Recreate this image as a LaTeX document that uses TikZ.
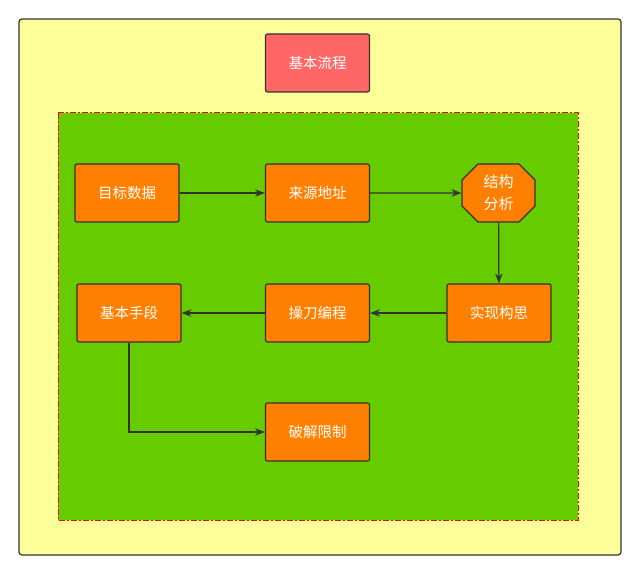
\documentclass[tikz,border=0pt]{standalone}
\usepackage{fontspec}
\setmainfont{Noto Sans CJK SC}
\usepackage{tikz}
\usetikzlibrary{positioning,arrows.meta,shapes.misc}
\definecolor{paleyellow}{HTML}{FFFF99}
\definecolor{leafgreen}{HTML}{66CC00}
\definecolor{boxorange}{HTML}{FF8000}
\definecolor{titlered}{HTML}{FF6666}
\definecolor{edgegray}{HTML}{333333}

\tikzset{
  stagebox/.style={draw=edgegray,line width=1.2pt,fill=boxorange,rounded corners=2pt,
    minimum width=104pt,minimum height=58pt,text=white,inner sep=0pt,
    font=\fontsize{14.5pt}{18pt}\selectfont},
  titlebox/.style={stagebox,fill=titlered},
  checkbox/.style={stagebox,chamfered rectangle,rounded corners=0pt,
    minimum width=73pt,minimum height=58pt,chamfered rectangle xsep=8pt,
    chamfered rectangle ysep=8pt,align=center,
    font=\fontsize{15pt}{22pt}\selectfont},
  flow/.style={->,line width=1.2pt,draw=edgegray}
}

\begin{document}
\begin{tikzpicture}[x=1pt,y=-1pt,>={Stealth[length=3.5mm,width=2.6mm]}]
\useasboundingbox (0,0) rectangle (640,575);
\fill[white] (0,0) rectangle (640,575);
\draw[edgegray,line width=1.2pt,fill=paleyellow,rounded corners=3pt] (19,19) rectangle (621,555);
\draw[red,line width=1pt,fill=leafgreen,dash pattern=on 6pt off 2pt on 2pt off 2pt] (58,113) rectangle (578,520);

\node[titlebox] (flowtitle) at (317.5,63) {基本流程};

\node[stagebox] (target) at (127,193) {目标数据};
\node[stagebox] (source) at (317.5,193) {来源地址};
\node[checkbox] (structure) at (498.5,193) {结构\\分析};
\node[stagebox] (idea) at (499,313) {实现构思};
\node[stagebox] (coding) at (317.5,313) {操刀编程};
\node[stagebox] (means) at (129,313) {基本手段};
\node[stagebox] (crack) at (317.5,432) {破解限制};

\draw[flow] (target) -- (source);
\draw[flow] (source) -- (structure);
\draw[flow] (structure) -- (idea);
\draw[flow] (idea) -- (coding);
\draw[flow] (coding) -- (means);
\draw[flow] (means) |- (crack);
\end{tikzpicture}
\end{document}
